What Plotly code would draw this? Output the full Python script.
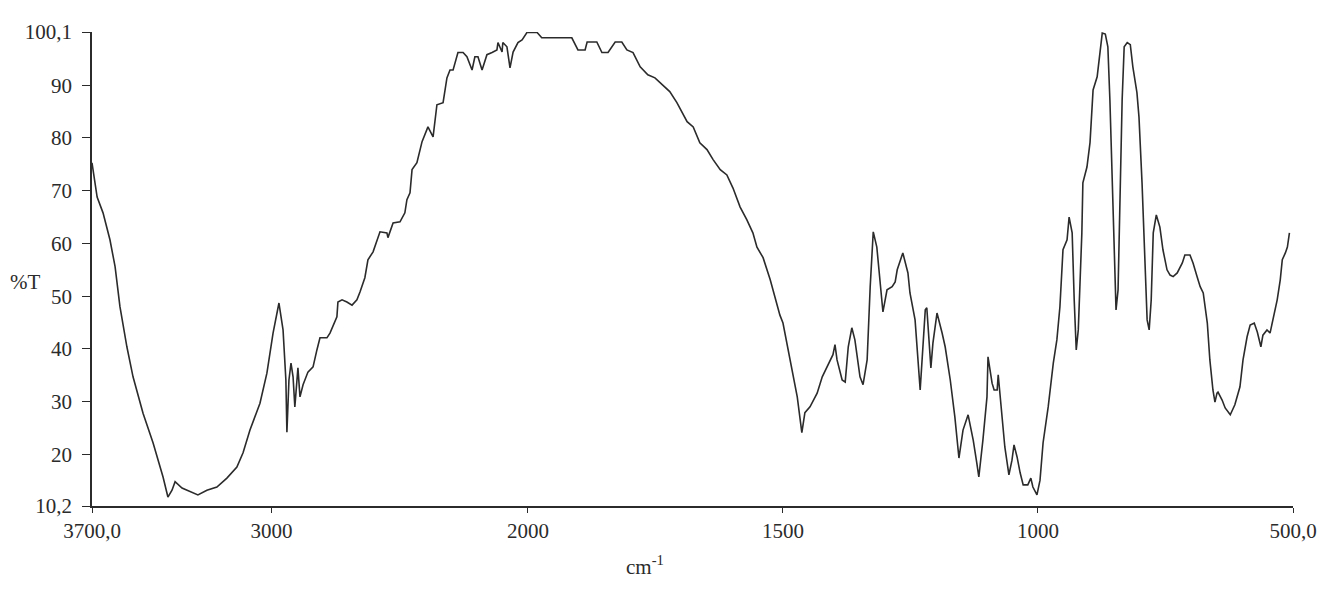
import plotly.graph_objects as go

# IR spectrum: wavenumber (cm-1) vs transmittance (%T)
# The 3700-2000 region is drawn at half the scale of the 2000-500 region.
high_wn = [3700, 3680, 3657, 3630, 3610, 3599, 3591, 3564, 3540, 3501, 3462, 3423, 3404,
           3388, 3376, 3349, 3310, 3287, 3252, 3213, 3174, 3135, 3111, 3084, 3045, 3018,
           2994, 2971, 2955, 2944, 2940, 2932, 2924, 2916, 2909, 2901, 2897, 2889, 2877,
           2858, 2838, 2823, 2811, 2784, 2772, 2745, 2741, 2725, 2706, 2686, 2667, 2655,
           2636, 2624, 2604, 2577, 2550, 2546, 2526, 2499, 2480, 2472, 2460, 2452, 2433,
           2413, 2390, 2370, 2355, 2331, 2316, 2304, 2292, 2273, 2253, 2238, 2218, 2207,
           2195, 2179, 2160, 2140, 2121, 2117, 2101, 2098, 2082, 2070, 2058, 2039, 2023,
           2004, 2000]
high_t = [75.3, 68.8, 65.8, 60.7, 55.6, 51.2, 48.0, 40.4, 34.7, 27.8, 22.2, 15.7, 11.9,
          13.2, 14.8, 13.6, 12.7, 12.3, 13.2, 13.8, 15.5, 17.6, 20.3, 24.6, 29.7, 35.4,
          43.0, 48.7, 43.6, 34.1, 24.2, 34.1, 37.3, 34.7, 29.0, 35.4, 36.4, 30.9, 33.2,
          35.6, 36.6, 39.8, 42.1, 42.1, 43.0, 46.1, 48.9, 49.3, 48.9, 48.3, 49.3, 50.8,
          53.5, 56.9, 58.4, 62.2, 62.0, 61.1, 63.9, 64.1, 65.8, 68.3, 69.6, 74.0, 75.3,
          79.3, 82.1, 80.2, 86.3, 86.7, 91.4, 92.9, 92.9, 96.2, 96.2, 95.4, 92.9, 95.4,
          95.4, 92.9, 95.8, 96.2, 96.7, 98.1, 96.3, 98.1, 97.3, 93.3, 96.3, 98.1, 98.6,
          100.0, 100.0]

low_wn = [2000, 1982, 1973, 1937, 1914, 1902, 1888, 1884, 1865, 1855, 1843, 1829, 1816,
          1806, 1794, 1780, 1765, 1751, 1741, 1722, 1708, 1688, 1676, 1663, 1649, 1637,
          1623, 1610, 1598, 1584, 1571, 1559, 1551, 1539, 1525, 1516, 1506, 1500, 1482,
          1472, 1463, 1457, 1447, 1433, 1423, 1414, 1402, 1398, 1394, 1384, 1378, 1372,
          1365, 1359, 1349, 1343, 1335, 1329, 1323, 1316, 1306, 1304, 1296, 1286, 1280,
          1276, 1265, 1255, 1251, 1241, 1231, 1221, 1218, 1210, 1206, 1198, 1188, 1182,
          1172, 1163, 1155, 1147, 1137, 1127, 1120, 1116, 1108, 1100, 1098, 1090, 1086,
          1080, 1078, 1071, 1065, 1057, 1051, 1047, 1041, 1035, 1029, 1020, 1014, 1010,
          1002, 996, 990, 980, 970, 963, 957, 951, 943, 939, 933, 929, 925, 921, 914,
          912, 904, 898, 892, 884, 880, 874, 868, 863, 859, 853, 849, 847, 843, 839, 835,
          831, 825, 819, 814, 806, 802, 796, 790, 786, 782, 778, 774, 768, 761, 755, 747,
          741, 735, 727, 717, 712, 702, 696, 688, 682, 676, 668, 663, 657, 653, 649, 647,
          639, 633, 623, 614, 604, 598, 590, 584, 576, 570, 563, 559, 551, 545, 539, 531,
          525, 521, 515, 511, 507]
low_t = [100.0, 100.0, 99.0, 99.0, 99.0, 96.7, 96.7, 98.2, 98.2, 96.2, 96.2, 98.2, 98.2,
         96.7, 96.2, 93.5, 92.0, 91.4, 90.5, 88.8, 86.7, 83.1, 82.1, 79.1, 77.8, 75.9,
         74.0, 73.0, 70.5, 66.9, 64.5, 62.0, 59.3, 57.3, 53.1, 49.9, 46.4, 44.9, 36.0,
         30.9, 24.1, 27.9, 29.0, 31.6, 34.7, 36.6, 38.9, 40.8, 37.9, 34.1, 33.7, 40.4,
         44.0, 41.7, 34.7, 33.2, 37.9, 51.8, 62.2, 59.3, 49.9, 47.0, 51.2, 51.8, 52.7,
         55.0, 58.2, 54.4, 50.6, 45.5, 32.2, 47.4, 47.8, 36.4, 41.1, 46.8, 43.0, 40.4,
         34.1, 27.1, 19.3, 24.6, 27.5, 22.7, 18.4, 15.7, 22.7, 30.9, 38.5, 33.5, 32.2,
         32.2, 35.1, 27.9, 21.4, 16.1, 18.9, 21.8, 19.5, 16.5, 14.2, 14.2, 15.5, 13.8,
         12.3, 15.1, 22.2, 29.0, 37.3, 41.7, 48.0, 58.8, 60.7, 65.0, 62.0, 49.3, 39.8,
         43.6, 62.0, 71.5, 74.5, 79.1, 89.1, 91.6, 94.8, 99.9, 99.7, 97.3, 87.2, 68.3,
         51.8, 47.4, 51.2, 68.3, 87.2, 97.3, 98.1, 97.7, 93.5, 88.6, 84.0, 71.5, 55.6,
         45.5, 43.6, 49.3, 62.0, 65.4, 63.1, 58.8, 55.0, 54.0, 53.7, 54.4, 56.3, 57.8,
         57.8, 56.3, 53.7, 51.8, 50.6, 44.9, 37.9, 32.2, 29.9, 31.6, 31.8, 30.3, 28.8,
         27.5, 29.4, 32.8, 37.9, 42.3, 44.5, 44.9, 43.2, 40.4, 42.6, 43.6, 43.0, 45.5,
         49.3, 53.1, 56.9, 58.2, 59.3, 62.0]

y_ticks = [10.2, 20, 30, 40, 50, 60, 70, 80, 90, 100.1]
y_labels = ["10,2", "20", "30", "40", "50", "60", "70", "80", "90", "100,1"]
high_ticks = [3700, 3000]
high_labels = ["3700,0", "3000"]
low_ticks = [2000, 1500, 1000, 500]
low_labels = ["2000", "1500", "1000", "500,0"]

INK = "#2b2b2b"
FONT = dict(family="Liberation Serif, Times New Roman, serif", size=21, color=INK)
split = 0.363  # fraction of the width taken by the 3700-2000 region

fig = go.Figure()
fig.add_trace(go.Scatter(x=high_wn, y=high_t, mode="lines", xaxis="x", yaxis="y",
                         line=dict(color=INK, width=1.6), showlegend=False))
fig.add_trace(go.Scatter(x=low_wn, y=low_t, mode="lines", xaxis="x2", yaxis="y",
                         line=dict(color=INK, width=1.6), showlegend=False))

axis_common = dict(showgrid=False, zeroline=False, showline=True, linecolor=INK,
                   linewidth=1.6, ticks="outside", tickcolor=INK, tickwidth=1.4,
                   tickfont=FONT, automargin=False)

fig.update_layout(
    width=1321, height=605,
    margin=dict(l=92, r=28, t=32, b=99),
    paper_bgcolor="white", plot_bgcolor="white",
    font=FONT,
    xaxis=dict(domain=[0, split], range=[3700, 2000], tickvals=high_ticks,
               ticktext=high_labels, anchor="y", ticklen=5, **axis_common),
    xaxis2=dict(domain=[split, 1], range=[2000, 500], tickvals=low_ticks,
                ticktext=low_labels, anchor="y", ticklen=5, **axis_common),
    yaxis=dict(range=[10.2, 100.1], tickvals=y_ticks, ticktext=y_labels,
               anchor="x", ticklen=8, ticklabelstandoff=6, **axis_common),
    annotations=[
        dict(text="%T", xref="paper", yref="paper", x=-0.056, y=0.473,
             xanchor="center", yanchor="middle", showarrow=False, font=FONT),
        dict(text="cm<sup>-1</sup>", xref="paper", yref="paper", x=0.4605, y=-0.125,
             xanchor="center", yanchor="middle", showarrow=False, font=FONT),
    ],
)

fig.write_html("out.html")
